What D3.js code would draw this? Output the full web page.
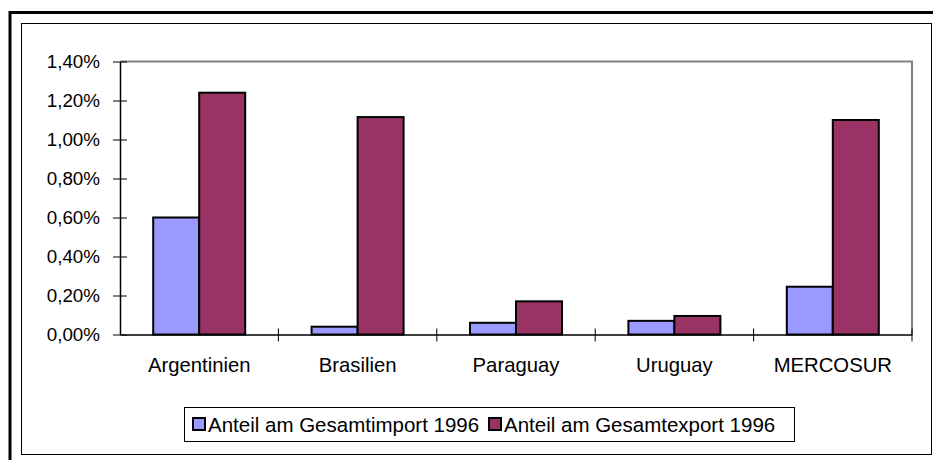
<!DOCTYPE html>
<html>
<head>
<meta charset="utf-8">
<script src="https://cdn.jsdelivr.net/npm/d3@7"></script>
<style>
  body { margin: 0; background: #fff; }
  svg { display: block; font-family: Arial, "Liberation Sans", sans-serif; }
</style>
</head>
<body>
<svg width="933" height="460"></svg>
<script>
const categories = ['Argentinien', 'Brasilien', 'Paraguay', 'Uruguay', 'MERCOSUR']
const seriesNames = ['Anteil am Gesamtimport 1996', 'Anteil am Gesamtexport 1996']
const importValues = [0.60, 0.04, 0.06, 0.07, 0.245]
const exportValues = [1.24, 1.115, 0.17, 0.095, 1.10]
const yTicks = [0, 0.2, 0.4, 0.6, 0.8, 1.0, 1.2, 1.4]
const colors = ['#9999FF', '#993366']

let svg = d3.select('svg')

// outer frame (cut off at right / bottom)
svg.append('path')
  .attr('d', 'M10,460 V12.5 H933')
  .attr('fill', 'none')
  .attr('stroke', '#000')
  .attr('stroke-width', 3)

// inner chart area frame
svg.append('rect')
  .attr('x', 21.5).attr('y', 23.5)
  .attr('width', 910).attr('height', 431)
  .attr('fill', '#fff')
  .attr('stroke', '#000')
  .attr('stroke-width', 1)

const plot = { left: 120, right: 912, top: 61.5, bottom: 334.5 }

const x = d3.scaleBand()
  .domain(categories)
  .range([plot.left, plot.right])

const y = d3.scaleLinear()
  .domain([0, 1.4])
  .range([plot.bottom, plot.top])

// plot area border (gray top & right)
svg.append('path')
  .attr('d', `M${plot.left},${plot.top} H${plot.right} V${plot.bottom}`)
  .attr('fill', 'none')
  .attr('stroke', '#808080')
  .attr('stroke-width', 2)

// bars
const barW = 46
const data = categories.map((c, i) => ({ cat: c, vals: [importValues[i], exportValues[i]] }))

const groups = svg.selectAll('g.cat')
  .data(data)
  .enter()
  .append('g')
  .attr('class', 'cat')

groups.selectAll('rect')
  .data(d => d.vals.map((v, k) => ({ cat: d.cat, v, k })))
  .enter()
  .append('rect')
  .attr('x', d => x(d.cat) + x.bandwidth() / 2 - barW + d.k * barW)
  .attr('y', d => y(d.v))
  .attr('width', barW)
  .attr('height', d => y(0) - y(d.v))
  .attr('fill', d => colors[d.k])
  .attr('stroke', '#000')
  .attr('stroke-width', 2)

// y axis
const yAxis = svg.append('g')
  .attr('transform', `translate(${plot.left},0)`)
  .call(d3.axisLeft(y)
    .tickValues(yTicks)
    .tickSize(0)
    .tickPadding(20)
    .tickFormat(d => d3.format('.2f')(d).replace('.', ',') + '%'))
yAxis.select('.domain').attr('stroke', '#000').attr('stroke-width', 1.5)
yAxis.selectAll('.tick line')
  .attr('x1', -7).attr('x2', 7)
  .attr('stroke', '#000')
yAxis.selectAll('.tick text')
  .attr('font-size', 18.8)
  .attr('fill', '#000')
  .attr('font-family', 'Arial, "Liberation Sans", sans-serif')

// x axis
const xAxis = svg.append('g')
  .attr('transform', `translate(0,${plot.bottom})`)
  .call(d3.axisBottom(x).tickSize(0))
xAxis.select('.domain').attr('stroke', '#000').attr('stroke-width', 1.5)
xAxis.selectAll('.tick text')
  .attr('y', 37.5)
  .attr('dy', 0)
  .attr('font-size', 20.3)
  .attr('fill', '#000')
  .attr('font-family', 'Arial, "Liberation Sans", sans-serif')

// category separator ticks
const boundaries = categories.map(c => x(c) + x.bandwidth())
svg.append('g')
  .selectAll('line')
  .data(boundaries)
  .enter()
  .append('line')
  .attr('x1', d => d).attr('x2', d => d)
  .attr('y1', plot.bottom - 6).attr('y2', plot.bottom + 7)
  .attr('stroke', '#000')
  .attr('stroke-width', 1)

// legend
let legend = svg.append('g').attr('id', 'legend')
legend.append('rect')
  .attr('x', 184.5).attr('y', 407.5)
  .attr('width', 610).attr('height', 34)
  .attr('fill', '#fff')
  .attr('stroke', '#000')
  .attr('stroke-width', 1)

const legendX = [193, 489]
legend.selectAll('rect.sw')
  .data(seriesNames)
  .enter()
  .append('rect')
  .attr('class', 'sw')
  .attr('x', (d, i) => legendX[i])
  .attr('y', 418)
  .attr('width', 12)
  .attr('height', 12)
  .attr('fill', (d, i) => colors[i])
  .attr('stroke', '#000')
  .attr('stroke-width', 2)

legend.selectAll('text')
  .data(seriesNames)
  .enter()
  .append('text')
  .attr('x', (d, i) => legendX[i] + 15)
  .attr('y', 431.5)
  .attr('font-size', 20.5)
  .text(d => d)
</script>
</body>
</html>
